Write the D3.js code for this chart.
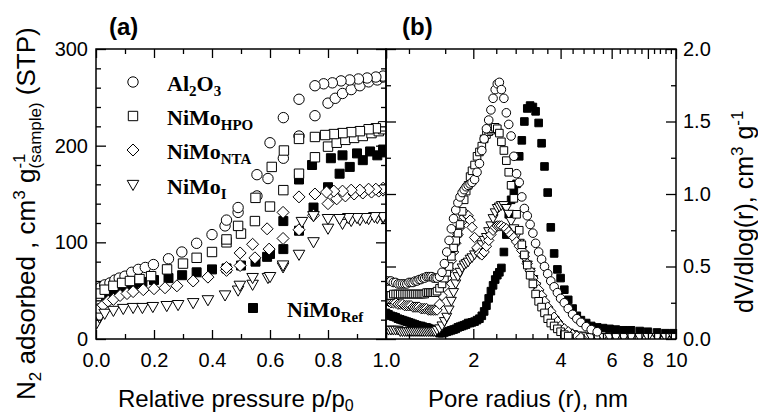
<!DOCTYPE html>
<html><head><meta charset="utf-8">
<script src="https://cdn.jsdelivr.net/npm/d3@7"></script>
<style>body{margin:0;background:#fff}</style>
</head><body>
<svg id="c" width="758" height="415" xmlns="http://www.w3.org/2000/svg"></svg>
<script>
// ---------- DATA: panel (a) N2 isotherms [p/p0, V] ----------
const al2o3Ads = [[0.003,44],[0.014,53],[0.03,56],[0.048,58],[0.065,61],[0.08,63],[0.1,65],[0.123,69],[0.146,72],[0.17,74],[0.198,77],[0.25,83],[0.296,90],[0.347,99],[0.40,108],[0.445,117],[0.49,131],[0.555,148],[0.593,166],[0.646,187],[0.70,210],[0.755,231],[0.80,244],[0.825,249],[0.85,254],[0.88,258],[0.91,262],[0.94,266],[0.97,268],[0.99,271]];
const al2o3Des = [[0.99,272],[0.965,271],[0.935,270],[0.905,269],[0.875,268],[0.845,267],[0.815,265],[0.785,264],[0.755,262],[0.70,248],[0.646,229],[0.60,203],[0.555,170],[0.49,136],[0.45,123]];
const hpoAds = [[0.003,40],[0.014,47],[0.03,51],[0.06,55],[0.09,58],[0.117,60],[0.15,62],[0.19,65],[0.245,72],[0.30,78],[0.347,84],[0.40,90],[0.45,100],[0.50,109],[0.548,122],[0.60,137],[0.646,154],[0.70,171],[0.755,188],[0.80,199],[0.83,203],[0.86,206],[0.89,208],[0.92,210],[0.95,213],[0.975,215],[0.99,217]];
const hpoDes = [[0.99,220],[0.965,218],[0.94,217],[0.91,215],[0.88,214],[0.85,213],[0.82,212],[0.79,211],[0.755,209],[0.70,207],[0.648,195],[0.606,178],[0.55,146],[0.49,117],[0.45,103]];
const ntaAds = [[0.003,22],[0.008,31],[0.025,35],[0.042,39],[0.06,41],[0.083,45],[0.107,47],[0.128,49],[0.163,51],[0.2,52],[0.238,53],[0.279,55],[0.335,60],[0.386,64],[0.45,71],[0.497,76],[0.548,84],[0.597,93],[0.645,104],[0.70,113],[0.75,128],[0.80,140],[0.83,145],[0.86,148],[0.89,150],[0.92,151],[0.95,152],[0.975,153],[0.99,154]];
const ntaDes = [[0.99,156],[0.965,155],[0.94,155],[0.91,154],[0.88,154],[0.85,153],[0.82,153],[0.795,152],[0.755,150],[0.70,147],[0.645,131],[0.59,114],[0.54,98],[0.497,89],[0.45,74]];
const nimoIAds = [[0.002,16],[0.012,22],[0.03,26],[0.06,29],[0.094,31],[0.128,32],[0.16,32],[0.196,33],[0.244,34],[0.283,35],[0.335,37],[0.386,40],[0.445,45],[0.49,50],[0.54,56],[0.593,63],[0.645,74],[0.70,87],[0.75,100],[0.80,114],[0.85,119],[0.88,122],[0.91,123],[0.94,124],[0.97,125],[0.99,125]];
const nimoIDes = [[0.99,126],[0.96,126],[0.93,125],[0.90,125],[0.87,125],[0.84,124],[0.80,124],[0.75,127],[0.71,121],[0.645,76],[0.60,64],[0.54,63],[0.496,55]];
const refAds = [[0.005,38],[0.02,44],[0.04,48],[0.06,51],[0.08,53],[0.10,55],[0.13,57],[0.16,59],[0.20,61],[0.25,63],[0.297,66],[0.347,69],[0.40,72],[0.45,73],[0.50,76],[0.55,80],[0.59,85],[0.646,93],[0.70,112],[0.75,136],[0.80,157],[0.84,171],[0.875,178],[0.92,185],[0.97,190],[0.99,193]];
const refDes = [[0.99,196],[0.945,194],[0.90,192],[0.85,190],[0.81,187],[0.745,180],[0.70,165],[0.646,122],[0.60,88]];

// ---------- DATA: panel (b) pore size distribution ----------
const poreRadius = [1.00,1.02,1.04,1.06,1.08,1.10,1.12,1.14,1.16,1.18,1.20,1.22,1.24,1.26,1.28,1.30,1.32,1.34,1.36,1.38,1.40,1.42,1.44,1.46,1.48,1.50,
 1.53,1.56,1.59,1.62,1.65,1.68,1.71,1.74,1.77,1.80,1.83,1.86,1.89,1.92,1.95,1.98,
 2.02,2.06,2.10,2.14,2.18,2.22,2.26,2.30,2.34,2.38,2.42,2.46,2.50,2.55,2.60,2.65,2.70,2.76,2.82,2.88,2.94,3.00,
 3.07,3.14,3.21,3.28,3.36,3.44,3.52,3.61,3.70,3.80,3.90,4.00,4.12,4.25,4.40,4.55,4.70,4.90,5.10,5.35,5.60,5.90,6.20,6.60,7.00,7.50,8.00,8.60,9.20,9.80];
const psdAl2O3 = [0.40,0.40,0.40,0.39,0.39,0.38,0.38,0.38,0.38,0.38,0.39,0.39,0.39,0.40,0.40,0.41,0.41,0.42,0.42,0.43,0.43,0.43,0.43,0.42,0.42,0.42,
 0.43,0.46,0.52,0.60,0.68,0.76,0.83,0.89,0.94,0.98,1.01,1.03,1.05,1.06,1.07,1.08,
 1.10,1.15,1.21,1.30,1.38,1.45,1.51,1.58,1.66,1.72,1.76,1.77,1.72,1.66,1.56,1.48,1.40,1.26,1.14,1.08,0.98,0.90,
 0.85,0.79,0.73,0.66,0.60,0.55,0.50,0.45,0.40,0.36,0.32,0.28,0.25,0.21,0.17,0.14,0.115,0.085,0.065,0.05,null,null,null,null,null,null,null,null,null,null];
const psdHPO = [0.30,0.30,0.30,0.31,0.31,0.31,0.31,0.31,0.31,0.31,0.31,0.31,0.31,0.31,0.31,0.31,0.31,0.31,0.31,0.32,0.32,0.32,0.32,0.32,0.32,0.33,
 0.35,0.38,0.42,0.46,0.50,0.57,0.63,0.68,0.73,0.79,0.88,0.96,1.02,1.06,1.12,1.16,
 1.20,1.26,1.29,1.33,1.38,1.41,1.43,1.44,1.45,1.46,1.45,1.42,1.36,1.30,1.23,1.15,1.06,0.97,0.86,0.75,0.65,0.58,
 0.51,0.44,0.38,0.31,0.26,0.22,0.18,0.14,0.11,0.09,0.07,0.05,0.03,0.02,null,null,null,null,null,null,null,null,null,null,null,null,null,null,null,null];
const psdNTA = [0.26,0.26,0.25,0.25,0.25,0.24,0.24,0.24,0.23,0.23,0.23,0.23,0.22,0.22,0.22,0.22,0.21,0.21,0.21,0.21,0.20,0.20,0.20,0.20,0.20,0.20,
 0.24,0.30,0.36,0.42,0.48,0.54,0.60,0.66,0.72,0.77,0.81,0.84,0.86,0.85,0.82,0.77,
 0.70,0.63,0.59,0.58,0.60,0.64,0.68,0.72,0.75,0.77,0.78,0.78,0.78,0.77,0.76,0.74,0.72,0.70,0.67,0.64,0.61,0.57,
 0.52,0.47,0.42,0.38,0.34,0.30,0.26,0.22,0.19,0.15,0.12,0.09,0.07,0.05,0.03,0.02,0.01,null,null,null,null,null,null,null,null,null,null,null,null,null];
const psdNiMoI = [0.06,0.06,0.06,0.06,0.06,0.06,0.05,0.05,0.05,0.05,0.05,0.05,0.05,0.05,0.05,0.05,0.05,0.05,0.05,0.05,0.05,0.05,0.05,0.05,0.05,0.06,
 0.07,0.09,0.12,0.15,0.20,0.26,0.32,0.38,0.43,0.46,0.49,0.51,0.52,0.53,0.55,0.56,
 0.58,0.60,0.62,0.65,0.68,0.70,0.74,0.78,0.83,0.87,0.90,0.91,0.92,0.92,0.90,0.86,0.81,0.76,0.71,0.66,0.61,0.57,
 0.51,0.46,0.41,0.36,0.31,0.27,0.23,0.19,0.15,0.12,0.09,0.07,0.05,0.04,0.03,0.02,0.02,0.015,0.01,0.01,0.01,0.01,0.01,0.01,0.01,0.01,0.01,0.01,0.01,0.01];
const psdRef = [0.18,0.17,0.16,0.155,0.15,0.14,0.135,0.13,0.125,0.12,0.115,0.11,0.105,0.10,0.095,0.09,0.09,0.085,0.08,0.08,0.075,0.07,0.065,0.06,0.055,0.05,
 0.04,0.04,0.045,0.05,0.055,0.06,0.065,0.07,0.08,0.085,0.09,0.095,0.10,0.11,0.11,0.115,
 0.12,0.13,0.14,0.16,0.19,0.23,0.28,0.33,0.37,0.41,0.44,0.46,0.49,0.60,0.72,0.86,0.96,1.02,1.07,1.26,1.37,1.50,
 1.59,1.61,1.60,1.57,1.49,1.35,1.19,1.01,0.77,0.59,0.48,0.42,0.34,0.27,0.21,0.16,0.13,0.11,0.09,0.08,0.075,0.07,0.065,0.06,0.06,0.055,0.05,0.045,0.04,0.04];

// ---------- ticks / labels ----------
const pressureTicks = [0,0.2,0.4,0.6,0.8,1.0];
const pressureMinor = [0.1,0.3,0.5,0.7,0.9];
const adsTicks = [0,100,200,300];
const adsMinor = [20,40,60,80,120,140,160,180,220,240,260,280];
const radiusTicks = [1,2,4,6,8,10];
const radiusTickLabels = ["1.0","2","4","6","8","10"];
const radiusMinor = [1.2,1.6,2.4,2.8,3.2,3.6,4.4,4.8,5.2,5.6,6.4,6.8,7.2,7.6,8.4,8.8,9.2,9.6];
const psdTicks = [0,0.5,1.0,1.5,2.0];
const psdMinor = [0.25,0.75,1.25,1.75];

// ---------- SETUP ----------
const FONT = "'Liberation Sans', Arial, Helvetica, sans-serif";
const SERIF = "'Liberation Serif', 'Times New Roman', serif";
const svg = d3.select("#c");
const L = 96, M = 386, R = 676, T = 49, B = 339;
const xA = d3.scaleLinear().domain([0,1]).range([L,M]);
const yA = d3.scaleLinear().domain([0,300]).range([B,T]);
const xB = d3.scaleLog().domain([1,10]).range([M,R]);
const yB = d3.scaleLinear().domain([0,2]).range([B,T]);

// symbols (size = half width)
const symCircle = {draw(c,s){c.moveTo(s,0);c.arc(0,0,s,0,2*Math.PI);}};
const symSquare = {draw(c,s){c.rect(-s,-s,2*s,2*s);}};
const symDiamond = {draw(c,s){c.moveTo(0,-s);c.lineTo(s,0);c.lineTo(0,s);c.lineTo(-s,0);c.closePath();}};
const symTriDown = {draw(c,s){c.moveTo(-s,-0.8*s);c.lineTo(s,-0.8*s);c.lineTo(0,0.95*s);c.closePath();}};

const defs = svg.append("defs");
defs.append("clipPath").attr("id","clipA").append("rect").attr("x",L).attr("y",T).attr("width",M-L).attr("height",B-T);
defs.append("clipPath").attr("id","clipB").append("rect").attr("x",M).attr("y",T).attr("width",R-M).attr("height",B-T);

function drawPts(g, data, x, y, sym, size, filled){
  g.append("g").selectAll("path").data(data.filter(d => d[1] != null)).enter().append("path")
    .attr("transform", d => `translate(${x(d[0])},${y(d[1])})`)
    .attr("d", d3.symbol().type(sym).size(size))
    .attr("fill", filled ? "#000" : "#fff")
    .attr("stroke", "#000").attr("stroke-width", 1);
}

// ---------- PANEL A ----------
const gA = svg.append("g").attr("clip-path","url(#clipA)");
drawPts(gA, refAds, xA, yA, symSquare, 4.5, true);
drawPts(gA, refDes, xA, yA, symSquare, 4.5, true);
drawPts(gA, al2o3Ads, xA, yA, symCircle, 5.2, false);
drawPts(gA, al2o3Des, xA, yA, symCircle, 5.2, false);
drawPts(gA, hpoAds, xA, yA, symSquare, 4.7, false);
drawPts(gA, hpoDes, xA, yA, symSquare, 4.7, false);
drawPts(gA, ntaAds, xA, yA, symDiamond, 6, false);
drawPts(gA, ntaDes, xA, yA, symDiamond, 6, false);
drawPts(gA, nimoIAds, xA, yA, symTriDown, 5.8, false);
drawPts(gA, nimoIDes, xA, yA, symTriDown, 5.8, false);

// ---------- PANEL B ----------
const gB = svg.append("g").attr("clip-path","url(#clipB)");
const zipR = v => poreRadius.map((r,i) => [r, v[i]]);
drawPts(gB, zipR(psdRef), xB, yB, symSquare, 3.8, true);
drawPts(gB, zipR(psdNiMoI), xB, yB, symTriDown, 5, false);
drawPts(gB, zipR(psdNTA), xB, yB, symDiamond, 5.2, false);
drawPts(gB, zipR(psdHPO), xB, yB, symSquare, 3.8, false);
drawPts(gB, zipR(psdAl2O3), xB, yB, symCircle, 4.3, false);

// ---------- AXES ----------
function styleAx(sel){
  sel.select(".domain").remove();
  sel.selectAll("line").attr("stroke","#000").attr("stroke-width",1.3);
  sel.selectAll("text").attr("font-family",FONT).attr("font-size",20).attr("fill","#000");
}
function ticksG(axis, tr, vals, len){
  svg.append("g").attr("transform",tr).call(axis.tickValues(vals).tickSize(-len).tickFormat("")).call(styleAx);
}
// panel a
ticksG(d3.axisBottom(xA), `translate(0,${B})`, pressureTicks, 9);
ticksG(d3.axisBottom(xA), `translate(0,${B})`, pressureMinor, 5);
ticksG(d3.axisTop(xA), `translate(0,${T})`, pressureTicks, 9);
ticksG(d3.axisTop(xA), `translate(0,${T})`, pressureMinor, 5);
ticksG(d3.axisLeft(yA), `translate(${L},0)`, adsTicks, 10);
ticksG(d3.axisLeft(yA), `translate(${L},0)`, adsMinor, 5);
ticksG(d3.axisRight(yA), `translate(${M},0)`, adsTicks, 10);
ticksG(d3.axisRight(yA), `translate(${M},0)`, adsMinor, 5);
// panel b
ticksG(d3.axisBottom(xB), `translate(0,${B})`, radiusTicks, 10);
ticksG(d3.axisBottom(xB), `translate(0,${B})`, radiusMinor, 5);
ticksG(d3.axisTop(xB), `translate(0,${T})`, radiusTicks, 10);
ticksG(d3.axisTop(xB), `translate(0,${T})`, radiusMinor, 5);
ticksG(d3.axisRight(yB), `translate(${R},0)`, psdTicks, 10);
ticksG(d3.axisRight(yB), `translate(${R},0)`, psdMinor, 5);
ticksG(d3.axisLeft(yB), `translate(${M},0)`, psdTicks, 10);
ticksG(d3.axisLeft(yB), `translate(${M},0)`, psdMinor, 5);

// labels
svg.append("g").attr("transform",`translate(0,${B})`)
  .call(d3.axisBottom(xA).tickValues(pressureTicks).tickSize(0).tickPadding(14).tickFormat(d3.format(".1f"))).call(styleAx);
svg.append("g").attr("transform",`translate(${L},0)`)
  .call(d3.axisLeft(yA).tickValues(adsTicks).tickSize(0).tickPadding(8)).call(styleAx);
svg.append("g").attr("transform",`translate(0,${B})`)
  .call(d3.axisBottom(xB).tickValues(radiusTicks.slice(1)).tickSize(0).tickPadding(14).tickFormat((d,i) => radiusTickLabels[i+1])).call(styleAx);
svg.append("g").attr("transform",`translate(${R},0)`)
  .call(d3.axisRight(yB).tickValues(psdTicks).tickSize(0).tickPadding(7).tickFormat(d3.format(".1f"))).call(styleAx);

// frames
svg.append("rect").attr("x",L).attr("y",T).attr("width",M-L).attr("height",B-T).attr("fill","none").attr("stroke","#000").attr("stroke-width",1.5);
svg.append("rect").attr("x",M).attr("y",T).attr("width",R-M).attr("height",B-T).attr("fill","none").attr("stroke","#000").attr("stroke-width",1.5);

// panel tags
svg.append("text").attr("x",109).attr("y",35).attr("font-family",FONT).attr("font-weight","bold").attr("font-size",24).text("(a)");
svg.append("text").attr("x",402).attr("y",35).attr("font-family",FONT).attr("font-weight","bold").attr("font-size",24).text("(b)");

// axis titles
const tA = svg.append("text").attr("x",118).attr("y",407).attr("font-family",FONT).attr("font-size",24);
tA.append("tspan").text("Relative pressure p/p");
tA.append("tspan").attr("font-size",16).attr("dy",4).text("0");
svg.append("text").attr("x",428).attr("y",407).attr("font-family",FONT).attr("font-size",24).text("Pore radius (r), nm");

const yT = svg.append("text").attr("transform","translate(35,400) rotate(-90)").attr("font-family",FONT).attr("font-size",26);
yT.append("tspan").text("N");
yT.append("tspan").attr("font-size",17).attr("dy",6).text("2");
yT.append("tspan").attr("dy",-6).text(" adsorbed , cm");
yT.append("tspan").attr("font-size",17).attr("dy",-10).text("3");
yT.append("tspan").attr("dy",10).text(" g");
yT.append("tspan").attr("font-size",17).attr("dy",-10).text("-1");
yT.append("tspan").attr("font-size",17).attr("dx",-15).attr("dy",16).text("(sample)");
yT.append("tspan").attr("dy",-6).text(" (STP)");

const yT2 = svg.append("text").attr("transform","translate(753,313) rotate(-90)").attr("font-family",FONT).attr("font-size",25);
yT2.append("tspan").text("dV/dlog(r), cm");
yT2.append("tspan").attr("font-size",17).attr("dy",-10).text("3");
yT2.append("tspan").attr("dy",10).text(" g");
yT2.append("tspan").attr("font-size",17).attr("dy",-10).text("-1");

// ---------- LEGEND ----------
const legendItems = [
  {sym:symCircle, s:5.2, filled:false, x:133, y:82, parts:[["Al",0],["2",1],["O",0],["3",1]]},
  {sym:symSquare, s:4.7, filled:false, x:133, y:116, parts:[["NiMo",0],["HPO",1]]},
  {sym:symDiamond, s:6, filled:false, x:133, y:150, parts:[["NiMo",0],["NTA",1]]},
  {sym:symTriDown, s:5.8, filled:false, x:133, y:185, parts:[["NiMo",0],["I",1]]},
  {sym:symSquare, s:4.5, filled:true, x:253, y:308, parts:[["NiMo",0],["Ref",1]]}
];
legendItems.forEach(it => {
  svg.append("path").attr("transform",`translate(${it.x},${it.y})`)
    .attr("d", d3.symbol().type(it.sym).size(it.s)())
    .attr("fill", it.filled ? "#000" : "#fff").attr("stroke","#000").attr("stroke-width",1);
  const t = svg.append("text").attr("x", it.x + 34).attr("y", it.y + 9)
    .attr("font-family",SERIF).attr("font-weight","bold").attr("font-size",22);
  let cur = 0;
  it.parts.forEach(([s,sub]) => {
    const dy = (sub ? 5 : 0) - cur; cur = sub ? 5 : 0;
    t.append("tspan").attr("dy",dy).attr("font-size", sub ? 15 : 22).text(s);
  });
});
</script>
</body></html>
